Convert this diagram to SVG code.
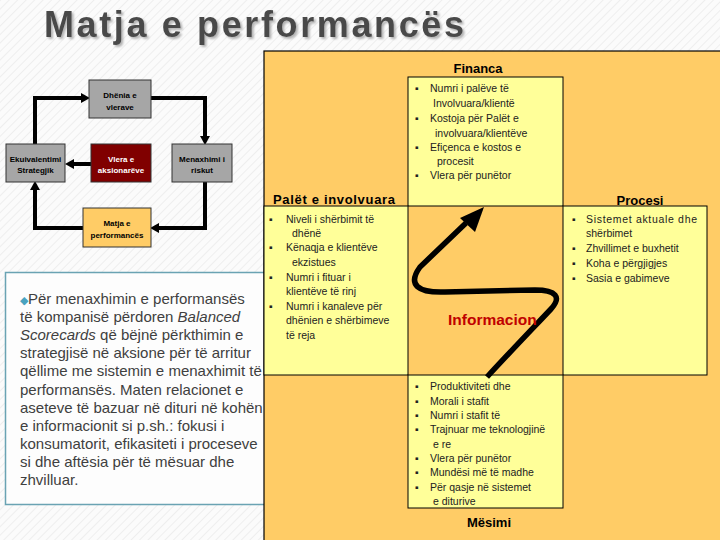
<svg xmlns="http://www.w3.org/2000/svg" width="720" height="540" viewBox="0 0 720 540">
<style>
.title{font-family:"Liberation Sans",Arial,sans-serif;font-weight:bold;font-size:36px;fill:#4a4a4a}
.cbox{stroke:#333;stroke-width:1}
.gray{fill:#a6a6a6}
.red{fill:#800000}
.orange{fill:#ffcc66}
.ct{font-family:"Liberation Sans",Arial,sans-serif;font-weight:bold;font-size:8px;fill:#000;text-anchor:middle}
.ctw{fill:#fff}
.conn{fill:none;stroke:#000;stroke-width:4}
.para{font-family:"Liberation Sans",Arial,sans-serif;font-size:15px;fill:#404040}
.ylw{fill:#ffff99;stroke:#000;stroke-width:1}
.hdr{font-family:"Liberation Sans",Arial,sans-serif;font-weight:bold;font-size:13px;fill:#000}
.bl{font-family:"Liberation Sans",Arial,sans-serif;font-size:10.5px;fill:#222}
.info{font-family:"Liberation Sans",Arial,sans-serif;font-weight:bold;font-size:15.5px;fill:#c00000}
</style>
<defs>
<pattern id="hatch" width="6" height="6" patternUnits="userSpaceOnUse" patternTransform="rotate(45)">
<rect width="6" height="6" fill="#fbfbfb"/>
<line x1="0" y1="0" x2="0" y2="6" stroke="#eeeeee" stroke-width="2"/>
</pattern>
<filter id="shadow" x="-5%" y="-20%" width="110%" height="150%">
<feDropShadow dx="2" dy="2" stdDeviation="0.8" flood-color="#a0a0a0" flood-opacity="0.8"/>
</filter>
<marker id="ah" markerUnits="userSpaceOnUse" markerWidth="9" markerHeight="10" refX="0" refY="5" orient="auto">
<path d="M0,0 L9,5 L0,10 z" fill="#000"/>
</marker>
</defs>
<rect width="720" height="540" fill="url(#hatch)"/>

<g id="title">
<text class="title" x="44" y="37" textLength="420" lengthAdjust="spacing" filter="url(#shadow)">Matja e performancës</text>
</g>

<g id="connectors">
<polyline class="conn" points="35,144 35,98 81,98" marker-end="url(#ah)"/>
<polyline class="conn" points="151,98 205,98 205,136" marker-end="url(#ah)"/>
<polyline class="conn" points="205,182 205,228 159,228" marker-end="url(#ah)"/>
<polyline class="conn" points="83,228 35,228 35,190" marker-end="url(#ah)"/>
<polyline class="conn" points="91,164 74,164" marker-end="url(#ah)"/>
</g>

<g id="dhenia">
<rect class="cbox gray" x="89" y="80" width="62" height="38"/>
<text class="ct" x="120" y="98">Dhënia e</text>
<text class="ct" x="120" y="110">vlerave</text>
</g>
<g id="ekuivalentimi">
<rect class="cbox gray" x="6" y="144" width="59" height="38"/>
<text class="ct" x="35.5" y="162">Ekuivalentimi</text>
<text class="ct" x="35.5" y="173">Strategjik</text>
</g>
<g id="vlera">
<rect class="cbox red" x="91" y="144" width="60" height="38"/>
<text class="ct ctw" x="121" y="162">Vlera e</text>
<text class="ct ctw" x="121" y="173">aksionarëve</text>
</g>
<g id="menaxhimi">
<rect class="cbox gray" x="172" y="144" width="60" height="38"/>
<text class="ct" x="202" y="162">Menaxhimi i</text>
<text class="ct" x="202" y="173">riskut</text>
</g>
<g id="matja">
<rect class="cbox orange" x="83" y="208" width="68" height="39"/>
<text class="ct" x="117" y="226">Matja e</text>
<text class="ct" x="117" y="238">performancës</text>
</g>

<g id="paragraph">
<rect x="5.5" y="272.5" width="262" height="232" fill="#fdfdfd" stroke="#6aa3b3" stroke-width="1.5"/>
<text class="para" x="20">
<tspan x="20" y="304"><tspan fill="#4aa3bf" font-size="11px">◆</tspan>Për menaxhimin e performansës</tspan>
<tspan x="20" y="322">të kompanisë përdoren <tspan font-style="italic">Balanced</tspan></tspan>
<tspan x="20" y="340"><tspan font-style="italic">Scorecards</tspan> që bëjnë përkthimin e</tspan>
<tspan x="20" y="358">strategjisë në aksione për të arritur</tspan>
<tspan x="20" y="376">qëllime me sistemin e menaxhimit të</tspan>
<tspan x="20" y="395">performansës. Maten relacionet e</tspan>
<tspan x="20" y="413">aseteve të bazuar në dituri në kohën</tspan>
<tspan x="20" y="431">e informacionit si p.sh.: fokusi i</tspan>
<tspan x="20" y="449">konsumatorit, efikasiteti i proceseve</tspan>
<tspan x="20" y="467">si dhe aftësia për të mësuar dhe</tspan>
<tspan x="20" y="485">zhvilluar.</tspan>
</text>
</g>

<g id="bsc-panel">
<rect x="264" y="51" width="470" height="500" fill="#ffcc66" stroke="#000" stroke-width="1.2"/>
</g>

<g id="financa">
<text class="hdr" x="478" y="73" text-anchor="middle">Financa</text>
<rect class="ylw" x="408" y="77" width="155" height="129"/>
<text class="bl">
<tspan x="415" y="92">▪</tspan><tspan x="430" y="92">Numri i palëve të</tspan>
<tspan x="433" y="107">Involvuara/klientë</tspan>
<tspan x="415" y="122">▪</tspan><tspan x="430" y="122">Kostoja për Palët e</tspan>
<tspan x="435" y="137">involvuara/klientëve</tspan>
<tspan x="415" y="151">▪</tspan><tspan x="430" y="151">Efiçenca e kostos e</tspan>
<tspan x="437" y="165">procesit</tspan>
<tspan x="415" y="179">▪</tspan><tspan x="430" y="179">Vlera për punëtor</tspan>
</text>
</g>

<g id="palet">
<text class="hdr" x="273" y="204" textLength="122" lengthAdjust="spacing">Palët e involvuara</text>
<rect class="ylw" x="264" y="206" width="144" height="169"/>
<text class="bl">
<tspan x="269" y="223">▪</tspan><tspan x="286" y="223">Niveli i shërbimit të</tspan>
<tspan x="292" y="237">dhënë</tspan>
<tspan x="269" y="251">▪</tspan><tspan x="286" y="251">Kënaqja e klientëve</tspan>
<tspan x="292" y="266">ekzistues</tspan>
<tspan x="269" y="281">▪</tspan><tspan x="286" y="281">Numri i fituar i</tspan>
<tspan x="286" y="295">klientëve të rinj</tspan>
<tspan x="269" y="310">▪</tspan><tspan x="286" y="310">Numri i kanaleve për</tspan>
<tspan x="286" y="324">dhënien e shërbimeve</tspan>
<tspan x="286" y="339">të reja</tspan>
</text>
</g>

<g id="procesi">
<text class="hdr" x="640" y="205" text-anchor="middle">Procesi</text>
<rect class="ylw" x="563" y="206" width="144" height="169"/>
<text class="bl">
<tspan x="572" y="223">▪</tspan><tspan x="586" y="223" textLength="111" lengthAdjust="spacing">Sistemet aktuale  dhe</tspan>
<tspan x="586" y="237">shërbimet</tspan>
<tspan x="572" y="252">▪</tspan><tspan x="586" y="252">Zhvillimet e buxhetit</tspan>
<tspan x="572" y="267">▪</tspan><tspan x="586" y="267">Koha e përgjigjes</tspan>
<tspan x="572" y="282">▪</tspan><tspan x="586" y="282">Sasia e gabimeve</tspan>
</text>
</g>

<g id="mesimi">
<rect class="ylw" x="408" y="375" width="155" height="133"/>
<text class="bl">
<tspan x="415" y="390">▪</tspan><tspan x="430" y="390">Produktiviteti dhe</tspan>
<tspan x="415" y="405">▪</tspan><tspan x="430" y="405">Morali i stafit</tspan>
<tspan x="415" y="419">▪</tspan><tspan x="430" y="419">Numri i stafit të</tspan>
<tspan x="415" y="433">▪</tspan><tspan x="430" y="433">Trajnuar me teknologjinë</tspan>
<tspan x="433" y="448">e re</tspan>
<tspan x="415" y="462">▪</tspan><tspan x="430" y="462">Vlera për punëtor</tspan>
<tspan x="415" y="476">▪</tspan><tspan x="430" y="476">Mundësi më të madhe</tspan>
<tspan x="415" y="491">▪</tspan><tspan x="430" y="491">Për qasje në sistemet</tspan>
<tspan x="433" y="505">e diturive</tspan>
</text>
<text class="hdr" x="489" y="527" text-anchor="middle">Mësimi</text>
</g>

<g id="informacion">
<path d="M487,377 C510,352 535,326 551,309 C562,297 556,290 535,290 L445,292 C418,293 407,285 420,267 L466,223" fill="none" stroke="#000" stroke-width="5.5"/>
<path d="M484,207 L460,218 L475,232 z" fill="#000"/>
<text class="info" x="448" y="325">Informacion</text>
</g>
</svg>
